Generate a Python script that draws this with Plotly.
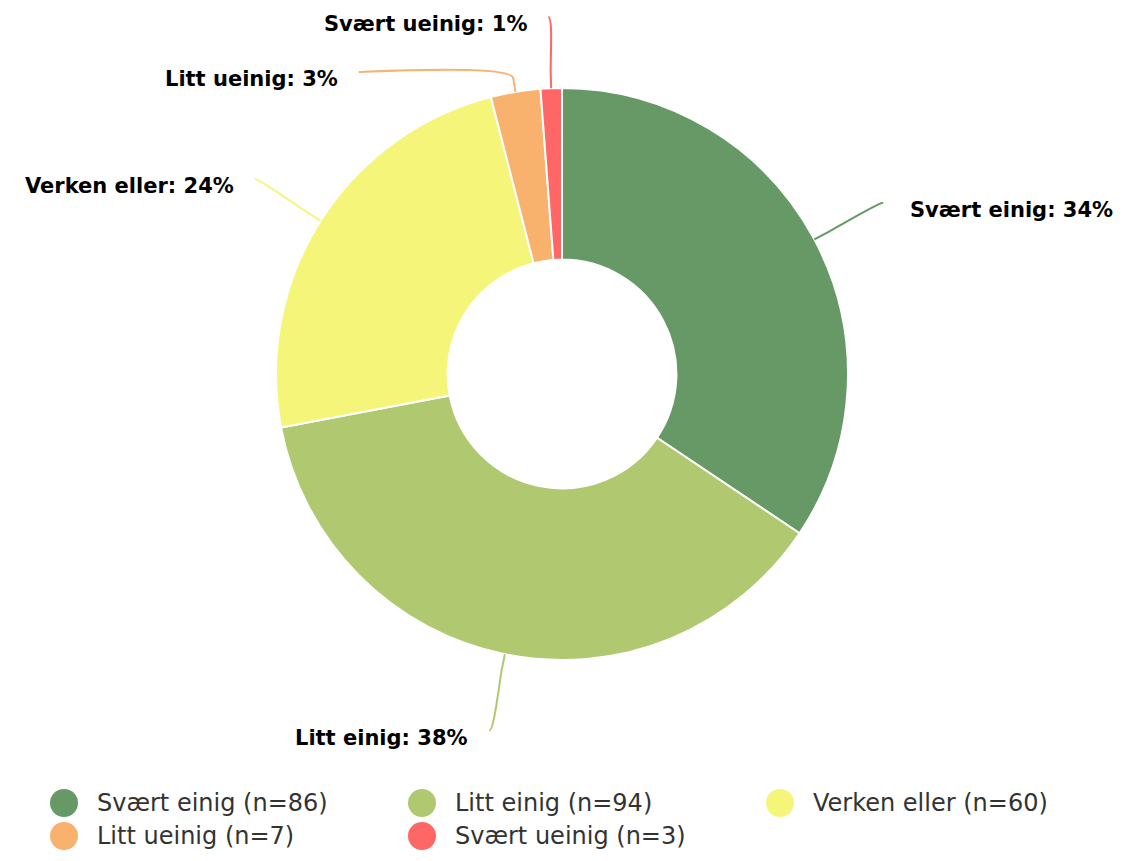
import math
import plotly.graph_objects as go

# ---- data ----
categories = ["Svært einig", "Litt einig", "Verken eller", "Litt ueinig", "Svært ueinig"]
counts = [86, 94, 60, 7, 3]
colors = ["#669966", "#b0c971", "#f5f57a", "#f9b16e", "#ff6666"]

# ---- layout constants (page pixel coordinates; body has 8px margin) ----
PAGE_OFF = 8
W, H = 1110, 845
CX, CY, R = 562, 374, 286
HOLE = 0.40
LABEL_R = 364
CONN_OFF = 14
MIN_TOP = 17
SPACING = 55
LABEL_FONT = dict(family="DejaVu Sans", size=21, color="#000000", weight="bold")
LEG_FONT = dict(family="DejaVu Sans", size=24, color="#333333")


def px(x):
    return (x - PAGE_OFF) / W


def py(y):
    return 1 - (y - PAGE_OFF) / H


total = sum(counts)
fig = go.Figure()
fig.add_trace(go.Pie(
    labels=categories, values=counts, hole=HOLE, sort=False,
    direction="clockwise", rotation=0,
    marker=dict(colors=colors, line=dict(color="#ffffff", width=2)),
    textinfo="none", hoverinfo="label+percent", showlegend=False,
    domain=dict(x=[px(CX - R), px(CX + R)], y=[py(CY + R), py(CY - R)]),
))

# ---- data labels with connectors (Highcharts-like placement) ----
items = []
cum = 0
for i, v in enumerate(counts):
    mid = (cum + v / 2) / total
    cum += v
    th = 2 * math.pi * mid
    s, c = math.sin(th), math.cos(th)
    items.append(dict(i=i, s=s, c=c, left=s < 0,
                      ny=CY - LABEL_R * c))

for side in (True, False):
    grp = sorted([it for it in items if it["left"] == side], key=lambda d: d["ny"])
    prev = None
    for it in grp:
        y = max(it["ny"], MIN_TOP)
        if prev is not None:
            y = max(y, prev + SPACING)
        it["y"] = y
        prev = y
        yx = it["ny"] if y <= MIN_TOP + 0.5 else y
        dx = math.sqrt(max(LABEL_R ** 2 - (yx - CY) ** 2, 0))
        it["x"] = CX - dx if side else CX + dx

shapes = []
annotations = []
for it in items:
    i = it["i"]
    s, c = it["s"], it["c"]
    tx, ty = CX + R * s, CY - R * c
    bx, by = CX + (R + CONN_OFF) * s, CY - (R + CONN_OFF) * c
    c2x, c2y = 2 * bx - tx, 2 * by - ty
    lx, ly = it["x"], it["y"]
    c1x = lx + (5 if it["left"] else -5)
    path = (f"M {px(lx):.5f} {py(ly):.5f} "
            f"C {px(c1x):.5f} {py(ly):.5f} {px(c2x):.5f} {py(c2y):.5f} {px(bx):.5f} {py(by):.5f} "
            f"L {px(tx):.5f} {py(ty):.5f}")
    shapes.append(dict(type="path", path=path, xref="paper", yref="paper",
                       line=dict(color=colors[i], width=2)))
    pct = round(counts[i] / total * 100)
    annotations.append(dict(
        text=f"{categories[i]}: {pct}%", showarrow=False,
        xref="paper", yref="paper",
        x=px(lx - 19) if it["left"] else px(lx + 25),
        xanchor="right" if it["left"] else "left",
        y=py(ly + 7), yanchor="middle", font=LABEL_FONT,
    ))

# ---- legend (circle markers) ----
LEG_X0, LEG_COLW, LEG_Y0, LEG_ROWH, LEG_R = 64, 358, 803, 33, 14
for i, name in enumerate(categories):
    col, row = i % 3, i // 3
    mx = LEG_X0 + col * LEG_COLW
    my = LEG_Y0 + row * LEG_ROWH
    shapes.append(dict(type="circle", xref="paper", yref="paper",
                       xsizemode="pixel", ysizemode="pixel",
                       xanchor=px(mx), yanchor=py(my),
                       x0=-LEG_R, x1=LEG_R, y0=-LEG_R, y1=LEG_R,
                       fillcolor=colors[i], line=dict(width=0)))
    annotations.append(dict(
        text=f"{name} (n={counts[i]})", showarrow=False,
        xref="paper", yref="paper", x=px(mx + 31), xanchor="left",
        y=py(my), yanchor="middle", font=LEG_FONT,
    ))

fig.update_layout(
    width=W, height=H, autosize=False,
    margin=dict(l=0, r=0, t=0, b=0),
    paper_bgcolor="#ffffff", plot_bgcolor="#ffffff",
    shapes=shapes, annotations=annotations,
    showlegend=False,
)

fig.write_html("out.html")
